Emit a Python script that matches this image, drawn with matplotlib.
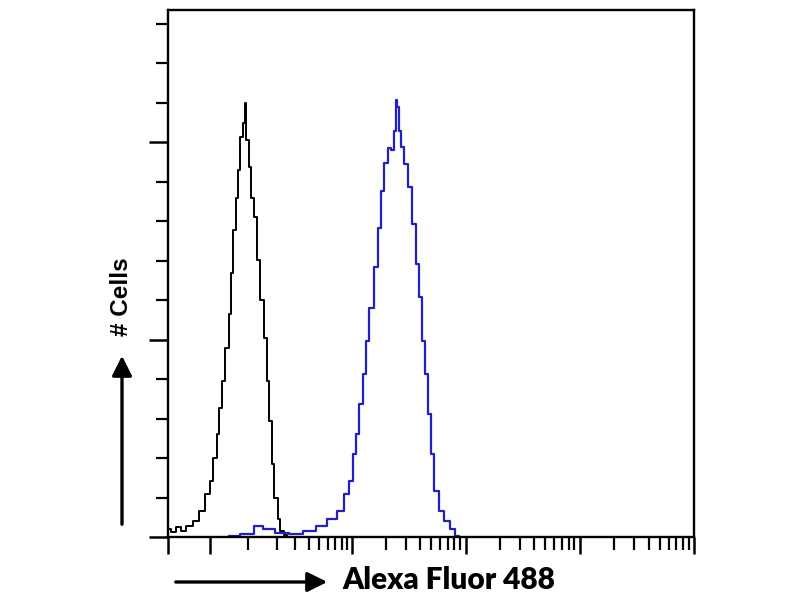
import numpy as np
import matplotlib
matplotlib.use("Agg")
import matplotlib.pyplot as plt
from matplotlib.ticker import FixedLocator, NullFormatter

# ---- data (fluorescence intensity, cell counts) ----
ctrl_x = [0.00, 0.03, 0.06, 0.09, 0.13, 0.19, 0.24, 0.32, 0.35, 0.40, 0.43, 0.47,
          0.52, 0.57, 0.64, 0.65, 0.71, 0.75, 0.79, 0.86, 0.90, 0.95, 0.97, 1.08,
          1.10, 1.22, 1.31, 1.41, 1.55, 1.62, 1.74, 1.82, 1.95, 2.09, 2.23, 2.44, 2.61]
ctrl_y = [2.0, 1.2, 2.5, 1.6, 2.8, 4.1, 6.6, 10.9, 14.2, 20.1, 26.1, 32.7,
          39.6, 48.0, 56.6, 66.8, 77.7, 86.0, 92.9, 101.3, 104.8, 109.9, 100.5, 93.7,
          86.0, 81.0, 70.1, 60.0, 50.5, 39.6, 29.4, 18.5, 9.9, 4.5, 1.5, 0.5, 0.0]

stain_x = [0.60, 1.02, 1.31, 1.55, 2.23, 3.04, 4.03, 5.32, 6.56, 7.92, 8.79, 9.75,
           10.4, 11.0, 12.0, 12.75, 13.6, 14.7, 16.3, 17.4, 18.5, 20.0, 21.7, 22.7,
           24.1, 24.6, 25.2, 26.5, 27.9, 29.9, 32.5, 35.5, 37.9, 40.6, 42.6, 44.9,
           48.1, 51.4, 55.1, 61.0, 67.5, 77.2, 85.3, 88.3]
stain_y = [0.3, 0.8, 2.8, 2.0, 1.0, 0.8, 1.5, 2.8, 4.6, 6.6, 10.9, 14.2,
           21.1, 26.1, 33.8, 41.4, 49.7, 58.1, 68.3, 78.4, 87.8, 94.7, 98.7, 98.0,
           103.0, 110.7, 109.0, 103.0, 98.8, 94.6, 88.7, 79.4, 69.2, 60.7, 49.7, 41.3,
           31.1, 21.0, 11.7, 6.6, 4.1, 2.0, 0.3, 0.0]

x_minor_ticks = [1, 2, 3, 4, 5, 6, 7, 8, 9,
                 20, 30, 40, 50, 60, 70, 80, 90,
                 200, 300, 400, 500, 600, 700, 800, 900,
                 2000, 3000, 4000, 5000, 6000, 7000, 8000, 9000]
x_major_ticks = [0, 0.335, 10, 100, 1000, 10000]
y_minor_ticks = [10, 20, 30, 40, 60, 70, 80, 90, 110, 120, 130]
y_major_ticks = [0, 50, 100]

OFFSET = 0.25


def fwd(x):
    x = np.asarray(x, dtype=float)
    return np.log10(np.maximum(x + OFFSET, 1e-6))


def inv(y):
    return 10 ** np.asarray(y, dtype=float) - OFFSET


fig = plt.figure(figsize=(8, 6), dpi=100)
ax = fig.add_axes([0.21, 0.105, 0.6575, 0.878])
ax.set_xscale('function', functions=(fwd, inv))

ax.plot(ctrl_x, ctrl_y, color='black', lw=1.4, drawstyle='steps-mid')
ax.plot(stain_x, stain_y, color='#2020c4', lw=1.6, drawstyle='steps-mid')

ax.set_xlim(0, 10000)
ax.set_ylim(0, 133.5)

ax.xaxis.set_major_locator(FixedLocator(x_major_ticks))
ax.xaxis.set_minor_locator(FixedLocator(x_minor_ticks))
ax.yaxis.set_major_locator(FixedLocator(y_major_ticks))
ax.yaxis.set_minor_locator(FixedLocator(y_minor_ticks))
for axis in (ax.xaxis, ax.yaxis):
    axis.set_major_formatter(NullFormatter())
    axis.set_minor_formatter(NullFormatter())

ax.tick_params(axis='x', which='major', direction='out', length=12, width=1.8, color='black')
ax.tick_params(axis='x', which='minor', direction='out', length=9, width=1.6, color='black')
ax.tick_params(axis='y', which='major', direction='out', length=14, width=1.8, color='black')
ax.tick_params(axis='y', which='minor', direction='out', length=9, width=1.6, color='black')

for s in ax.spines.values():
    s.set_linewidth(1.7)
    s.set_color('black')

# axis labels with arrows (figure coordinates)
fig.text(555 / 800, 1 - 580 / 600, 'Alexa Fluor 488', ha='right', va='center',
         fontsize=21.5, fontweight='heavy', family=['Lato', 'DejaVu Sans'])
fig.patches.append(matplotlib.patches.FancyArrowPatch(
    (173 / 800, 1 - 582 / 600), (330 / 800, 1 - 582 / 600), transform=fig.transFigure,
    arrowstyle='-|>,head_length=0.6,head_width=0.3', mutation_scale=20, lw=2.4, color='black'))

fig.text(121 / 800, 1 - 297 / 600, '# Cells', ha='center', va='center', rotation=90,
         fontsize=17.5, fontweight='bold', family=['Liberation Sans', 'DejaVu Sans'])
fig.patches.append(matplotlib.patches.FancyArrowPatch(
    (122 / 800, 1 - 527 / 600), (122 / 800, 1 - 353 / 600), transform=fig.transFigure,
    arrowstyle='-|>,head_length=0.6,head_width=0.3', mutation_scale=20, lw=2.4, color='black'))

fig.savefig('out.png', dpi=100)
